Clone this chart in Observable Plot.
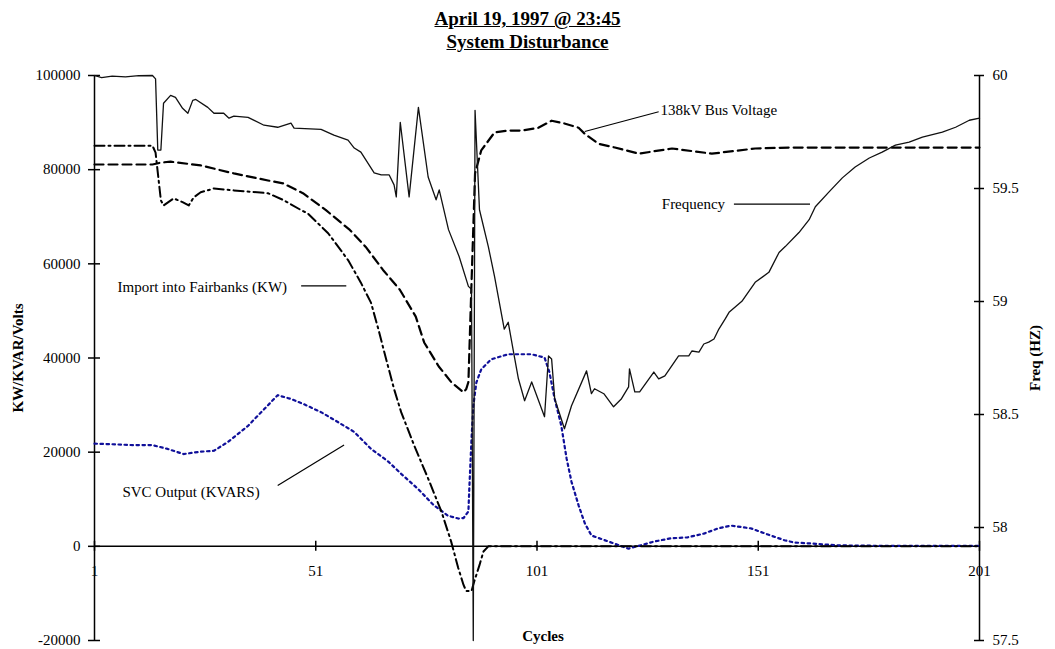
<!DOCTYPE html>
<html><head><meta charset="utf-8">
<script src="https://cdn.jsdelivr.net/npm/d3@7"></script>
<script src="https://cdn.jsdelivr.net/npm/@observablehq/plot@0.6"></script>
<style>
body{margin:0;background:#fff;width:1055px;height:649px;overflow:hidden;font-family:"Liberation Serif","Times New Roman",serif;}
#title{height:55px;box-sizing:border-box;padding-top:7px;text-align:center;font-weight:bold;font-size:19px;line-height:23px;color:#000;}
#title span{text-decoration:underline;}
#chart svg{display:block;overflow:visible;}
</style></head><body>
<div id="title"><span>April 19, 1997 @ 23:45</span><br><span>System Disturbance</span></div>
<div id="chart"></div>
<script>
// ---- axes ----
const cycleMin = 1, cycleMax = 201;
const kwMin = -20000, kwMax = 100000;
const hzMin = 57.5, hzMax = 60;
const xTicks = [1, 51, 101, 151, 201];
const leftTicks = [-20000, 0, 20000, 40000, 60000, 80000, 100000];
const rightTicks = [57.5, 58, 58.5, 59, 59.5, 60];

// ---- 138kV Bus Voltage (left axis) ----
const busCycle = [1, 14.1, 16.0, 18.2, 25.0, 32.5, 40.2, 43.6, 48.1, 53.3, 58.7, 62.3, 66.2, 70.0, 73.6, 75.5, 78.8, 81.7, 84.4, 85.0, 85.5, 86.0, 87.0, 88.4, 91.4, 94.5, 97.5, 101.3, 104.3, 107.2, 110.4, 111.8, 114.9, 118.6, 124.0, 131.5, 140.5, 150.3, 158.0, 201];
const busValue = [81100, 81100, 81500, 81700, 80900, 79200, 77700, 77100, 75000, 71400, 67200, 63600, 58700, 54500, 48800, 43300, 38200, 34800, 32700, 33400, 34900, 50000, 79200, 84100, 87900, 88300, 88300, 88900, 90400, 89800, 88900, 87600, 85500, 84700, 83400, 84500, 83400, 84500, 84700, 84700];

// ---- Import into Fairbanks (KW) ----
const impCycle = [1, 14.1, 14.8, 16.0, 16.6, 18.9, 20.9, 22.3, 23.4, 25.0, 28.0, 32.5, 40.2, 43.8, 47.7, 49.2, 53.8, 58.3, 61.2, 63.5, 65.3, 66.5, 68.7, 70.3, 73.3, 76.4, 79.4, 81.6, 83.2, 84.4, 85.0, 86.2, 86.8, 88.0, 88.9, 90.0, 201];
const impValue = [85100, 85100, 83600, 73500, 72400, 73900, 73100, 72400, 74100, 75200, 76000, 75600, 75000, 73500, 71400, 70700, 66500, 60800, 56000, 51700, 45600, 41200, 33400, 28500, 21300, 14400, 7400, 1000, -4600, -8200, -9500, -9500, -7500, -4000, -1100, 0, 0];

// ---- SVC Output (KVARS) ----
const svcCycle = [1, 4.6, 9.8, 14.1, 17.5, 21.1, 25.0, 28.0, 31.2, 35.7, 39.3, 42.4, 45.4, 48.3, 52.2, 56.0, 59.7, 63.5, 67.4, 70.3, 74.1, 77.7, 80.9, 83.2, 84.4, 85.5, 85.7, 86.2, 86.6, 87.3, 88.4, 90.6, 94.5, 99.7, 102.7, 103.8, 105.0, 106.5, 107.7, 108.8, 110.4, 111.8, 113.3, 117.2, 121.7, 127.4, 131.2, 135.0, 138.7, 141.9, 144.9, 149.4, 153.2, 156.9, 159.2, 163.0, 169.1, 180, 201];
const svcValue = [21800, 21700, 21500, 21500, 20700, 19600, 20100, 20300, 22200, 25600, 29100, 32100, 31300, 30200, 28500, 26400, 24300, 20700, 18000, 15400, 12200, 8700, 6500, 5900, 6000, 7400, 12200, 22800, 29800, 34800, 37600, 39700, 40800, 40800, 40100, 37000, 31300, 25600, 18600, 13700, 8700, 4900, 2300, 1000, -500, 1000, 1700, 1900, 2700, 3800, 4400, 3800, 2500, 1300, 800, 600, 200, 100, 100];

// ---- Frequency (Hz, right axis) ----
const freqCycle = [1, 2.6, 5, 8, 11, 14.1, 14.8, 15.3, 16.0, 16.6, 18.2, 19.3, 20.9, 22.1, 23.2, 23.9, 26.6, 28.0, 30.2, 31.4, 32.5, 35.7, 39.3, 42.4, 45.4, 46.1, 52.2, 55.1, 58.3, 59.7, 61.2, 64.2, 65.8, 67.6, 68.7, 69.2, 70.1, 72.1, 74.2, 76.4, 78.2, 78.9, 81.0, 83.4, 85.5, 86.2, 86.6, 87.0, 88.0, 90.0, 91.4, 93.6, 94.5, 95.7, 96.8, 98.2, 99.8, 102.7, 103.6, 104.3, 105.0, 107.2, 108.8, 112.2, 113.3, 114.0, 116.1, 118.3, 120.1, 121.7, 121.9, 123.1, 124.2, 127.4, 128.5, 129.9, 133.0, 135.3, 136.0, 137.6, 138.7, 139.8, 141.0, 142.1, 143.5, 144.4, 147.3, 150.3, 153.4, 155.7, 157.1, 160.2, 162.5, 163.9, 167.0, 170.0, 172.9, 176.1, 179.0, 182.0, 185.1, 188.1, 192.6, 195.6, 198.7, 201];
const freqHz = [60.000, 59.991, 59.997, 59.994, 59.999, 60.000, 59.985, 59.670, 59.670, 59.877, 59.912, 59.903, 59.855, 59.833, 59.890, 59.894, 59.859, 59.833, 59.833, 59.811, 59.820, 59.815, 59.780, 59.771, 59.789, 59.767, 59.762, 59.736, 59.714, 59.679, 59.661, 59.569, 59.560, 59.560, 59.516, 59.463, 59.793, 59.463, 59.859, 59.551, 59.450, 59.494, 59.318, 59.199, 59.067, 59.054, 57.500, 59.846, 59.406, 59.243, 59.111, 58.878, 58.908, 58.776, 58.658, 58.561, 58.644, 58.490, 58.759, 58.746, 58.570, 58.437, 58.539, 58.693, 58.592, 58.614, 58.592, 58.534, 58.570, 58.622, 58.702, 58.600, 58.600, 58.688, 58.658, 58.671, 58.759, 58.759, 58.781, 58.776, 58.812, 58.820, 58.834, 58.878, 58.922, 58.952, 59.001, 59.085, 59.129, 59.217, 59.243, 59.305, 59.362, 59.419, 59.485, 59.547, 59.595, 59.635, 59.661, 59.692, 59.705, 59.727, 59.749, 59.771, 59.802, 59.811];

// ---- annotations ----
const annLabels = ["Import into Fairbanks (KW)", "SVC Output (KVARS)", "138kV Bus Voltage", "Frequency"];
const annCycle = [6.2, 7.3, 128.9, 129.2];
const annValue = [55100, 11600, 92700, 72700];
const ptrX1 = [47.7, 42.4, 128.5, 145.5];
const ptrY1 = [55300, 12900, 92300, 72700];
const ptrX2 = [57.9, 57.4, 111.8, 162.7];
const ptrY2 = [55300, 21500, 88100, 72700];

// ---- build tables ----
const toLeft = hz => kwMin + (hz - hzMin) / (hzMax - hzMin) * (kwMax - kwMin);
const fromLeft = v => hzMin + (v - kwMin) / (kwMax - kwMin) * (hzMax - hzMin);
const bus = busCycle.map((c, i) => ({cycle: c, value: busValue[i]}));
const imp = impCycle.map((c, i) => ({cycle: c, value: impValue[i]}));
const svc = svcCycle.map((c, i) => ({cycle: c, value: svcValue[i]}));
const freq = freqCycle.map((c, i) => ({cycle: c, value: toLeft(freqHz[i])}));
const ann = annLabels.map((t, i) => ({text: t, cycle: annCycle[i], value: annValue[i]}));
const ptr = ptrX1.map((x, i) => ({x1: x, y1: ptrY1[i], x2: ptrX2[i], y2: ptrY2[i]}));

const chart = Plot.plot({
  width: 1055, height: 594,
  marginLeft: 94, marginRight: 76, marginTop: 20, marginBottom: 9,
  style: {fontFamily: "'Liberation Serif', 'Times New Roman', serif", fontSize: "15px", background: "white", color: "black"},
  x: {domain: [cycleMin, cycleMax], axis: null},
  y: {domain: [kwMin, kwMax]},
  marks: [
    // axis lines
    Plot.ruleY([0], {x1: cycleMin, x2: cycleMax, stroke: "black", strokeWidth: 1.5}),
    Plot.ruleX([cycleMin, cycleMax], {y1: kwMin, y2: kwMax, stroke: "black", strokeWidth: 1.5}),
    Plot.ruleY(leftTicks, {y: d => d, x1: cycleMin, x2: cycleMin, insetLeft: -6, insetRight: -6, stroke: "black", strokeWidth: 1.5}),
    Plot.ruleY(rightTicks.map(toLeft), {y: d => d, x1: cycleMax, x2: cycleMax, insetLeft: -5, insetRight: -5, stroke: "black", strokeWidth: 1.5}),
    Plot.ruleX(xTicks, {x: d => d, y1: 0, y2: 0, insetTop: -5, insetBottom: -5, stroke: "black", strokeWidth: 1.5}),
    // tick labels
    Plot.axisY(leftTicks, {anchor: "left", tickSize: 0, tickPadding: 14, tickFormat: d => String(d), label: null}),
    Plot.axisY(rightTicks.map(toLeft), {anchor: "right", tickSize: 0, tickPadding: 13, tickFormat: d => String(Math.round(fromLeft(d) * 10) / 10), label: null}),
    Plot.text(xTicks, {x: d => d, y: 0, dy: 25, text: d => String(d)}),
    // axis titles
    Plot.text(["KW/KVAR/Volts"], {frameAnchor: "left", dx: -76, rotate: -90, textAnchor: "middle", lineAnchor: "middle", fontWeight: "bold", text: d => d}),
    Plot.text(["Freq (HZ)"], {frameAnchor: "right", dx: 56, rotate: -90, textAnchor: "middle", lineAnchor: "middle", fontWeight: "bold", text: d => d}),
    Plot.text(["Cycles"], {frameAnchor: "bottom", dx: 6, dy: -4, textAnchor: "middle", lineAnchor: "middle", fontWeight: "bold", text: d => d}),
    // series
    Plot.line(svc, {x: "cycle", y: "value", stroke: "#10109a", strokeWidth: 2.2, strokeDasharray: "2.5,3.5"}),
    Plot.line(imp, {x: "cycle", y: "value", stroke: "black", strokeWidth: 2, strokeDasharray: "10,4,2,4"}),
    Plot.line(bus, {x: "cycle", y: "value", stroke: "black", strokeWidth: 2.2, strokeDasharray: "9,5"}),
    Plot.line(freq, {x: "cycle", y: "value", stroke: "#111", strokeWidth: 1.3}),
    // annotations
    Plot.link(ptr, {x1: "x1", y1: "y1", x2: "x2", y2: "y2", stroke: "black", strokeWidth: 1.2}),
    Plot.text(ann, {x: "cycle", y: "value", text: "text", textAnchor: "start", lineAnchor: "middle"})
  ]
});
document.getElementById("chart").append(chart);
</script>
</body></html>
